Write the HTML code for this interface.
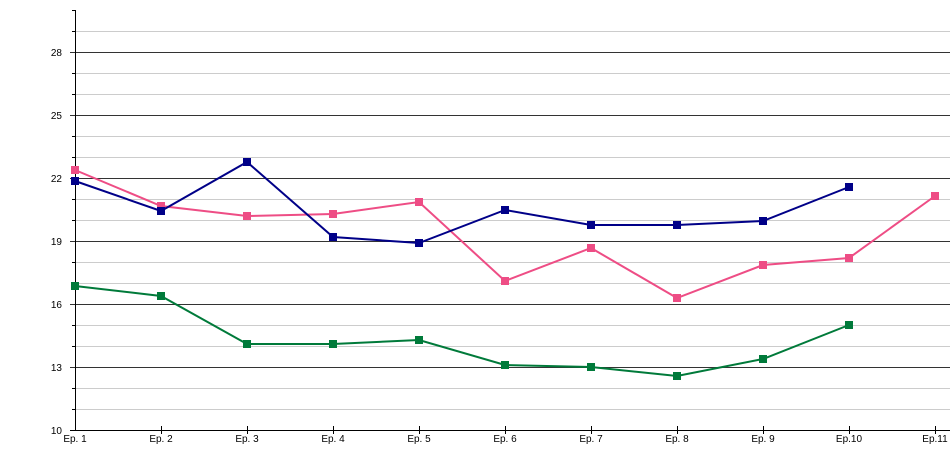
<!DOCTYPE html>
<html><head><style>body{margin:0;background:#fff}svg{display:block}text{font-family:"Liberation Sans",sans-serif;font-size:10px;fill:#000}</style></head>
<body>
<svg width="950" height="450" viewBox="0 0 950 450">
<g stroke="#ccc" stroke-width="1">
<line x1="75" x2="950" y1="31.5" y2="31.5"/><line x1="75" x2="950" y1="73.5" y2="73.5"/><line x1="75" x2="950" y1="94.5" y2="94.5"/>
<line x1="75" x2="950" y1="136.5" y2="136.5"/><line x1="75" x2="950" y1="157.5" y2="157.5"/><line x1="75" x2="950" y1="199.5" y2="199.5"/>
<line x1="75" x2="950" y1="220.5" y2="220.5"/><line x1="75" x2="950" y1="262.5" y2="262.5"/><line x1="75" x2="950" y1="283.5" y2="283.5"/>
<line x1="75" x2="950" y1="325.5" y2="325.5"/><line x1="75" x2="950" y1="346.5" y2="346.5"/><line x1="75" x2="950" y1="388.5" y2="388.5"/><line x1="75" x2="950" y1="409.5" y2="409.5"/>
</g>
<g stroke="#333" stroke-width="1">
<line x1="70" x2="950" y1="52.5" y2="52.5"/><line x1="70" x2="950" y1="115.5" y2="115.5"/><line x1="70" x2="950" y1="178.5" y2="178.5"/>
<line x1="70" x2="950" y1="241.5" y2="241.5"/><line x1="70" x2="950" y1="304.5" y2="304.5"/><line x1="70" x2="950" y1="367.5" y2="367.5"/>
</g>
<g stroke="#000" stroke-width="1">
<line x1="72" x2="75" y1="10.5" y2="10.5"/><line x1="72" x2="75" y1="31.5" y2="31.5"/><line x1="72" x2="75" y1="73.5" y2="73.5"/><line x1="72" x2="75" y1="94.5" y2="94.5"/><line x1="72" x2="75" y1="136.5" y2="136.5"/><line x1="72" x2="75" y1="157.5" y2="157.5"/><line x1="72" x2="75" y1="199.5" y2="199.5"/><line x1="72" x2="75" y1="220.5" y2="220.5"/><line x1="72" x2="75" y1="262.5" y2="262.5"/><line x1="72" x2="75" y1="283.5" y2="283.5"/><line x1="72" x2="75" y1="325.5" y2="325.5"/><line x1="72" x2="75" y1="346.5" y2="346.5"/><line x1="72" x2="75" y1="388.5" y2="388.5"/><line x1="72" x2="75" y1="409.5" y2="409.5"/>
<line x1="75.5" x2="75.5" y1="10" y2="431"/>
<line x1="70" x2="950" y1="430.5" y2="430.5"/>
<line x1="161.5" x2="161.5" y1="426" y2="434"/><line x1="247.5" x2="247.5" y1="426" y2="434"/><line x1="333.5" x2="333.5" y1="426" y2="434"/><line x1="419.5" x2="419.5" y1="426" y2="434"/><line x1="505.5" x2="505.5" y1="426" y2="434"/><line x1="591.5" x2="591.5" y1="426" y2="434"/><line x1="677.5" x2="677.5" y1="426" y2="434"/><line x1="763.5" x2="763.5" y1="426" y2="434"/><line x1="849.5" x2="849.5" y1="426" y2="434"/><line x1="935.5" x2="935.5" y1="426" y2="434"/>
</g>
<g text-anchor="end">
<text x="62" y="56">28</text><text x="62" y="119">25</text><text x="62" y="182">22</text><text x="62" y="245">19</text><text x="62" y="308">16</text><text x="62" y="371">13</text><text x="62" y="434">10</text>
</g>
<g text-anchor="middle">
<text x="75" y="442">Ep. 1</text><text x="161" y="442">Ep. 2</text><text x="247" y="442">Ep. 3</text><text x="333" y="442">Ep. 4</text><text x="419" y="442">Ep. 5</text><text x="505" y="442">Ep. 6</text><text x="591" y="442">Ep. 7</text><text x="677" y="442">Ep. 8</text><text x="763" y="442">Ep. 9</text><text x="849" y="442">Ep.10</text><text x="935" y="442">Ep.11</text>
</g>
<polyline fill="none" stroke="#ee4d85" stroke-width="2" points="75,170 161,206 247,216 333,214 419,202 505,281 591,248 677,298 763,265 849,258 935,196"/>
<polyline fill="none" stroke="#000088" stroke-width="2" points="75,181 161,211 247,162 333,237 419,243 505,210 591,225 677,225 763,221 849,187"/>
<polyline fill="none" stroke="#007a3a" stroke-width="2" points="75,286 161,296 247,344 333,344 419,340 505,365 591,367 677,376 763,359 849,325"/>
<g fill="#ee4d85"><rect x="71" y="166" width="8" height="8"/><rect x="157" y="202" width="8" height="8"/><rect x="243" y="212" width="8" height="8"/><rect x="329" y="210" width="8" height="8"/><rect x="415" y="198" width="8" height="8"/><rect x="501" y="277" width="8" height="8"/><rect x="587" y="244" width="8" height="8"/><rect x="673" y="294" width="8" height="8"/><rect x="759" y="261" width="8" height="8"/><rect x="845" y="254" width="8" height="8"/><rect x="931" y="192" width="8" height="8"/></g>
<g fill="#000088"><rect x="71" y="177" width="8" height="8"/><rect x="157" y="207" width="8" height="8"/><rect x="243" y="158" width="8" height="8"/><rect x="329" y="233" width="8" height="8"/><rect x="415" y="239" width="8" height="8"/><rect x="501" y="206" width="8" height="8"/><rect x="587" y="221" width="8" height="8"/><rect x="673" y="221" width="8" height="8"/><rect x="759" y="217" width="8" height="8"/><rect x="845" y="183" width="8" height="8"/></g>
<g fill="#007a3a"><rect x="71" y="282" width="8" height="8"/><rect x="157" y="292" width="8" height="8"/><rect x="243" y="340" width="8" height="8"/><rect x="329" y="340" width="8" height="8"/><rect x="415" y="336" width="8" height="8"/><rect x="501" y="361" width="8" height="8"/><rect x="587" y="363" width="8" height="8"/><rect x="673" y="372" width="8" height="8"/><rect x="759" y="355" width="8" height="8"/><rect x="845" y="321" width="8" height="8"/></g>
</svg>
</body></html>
